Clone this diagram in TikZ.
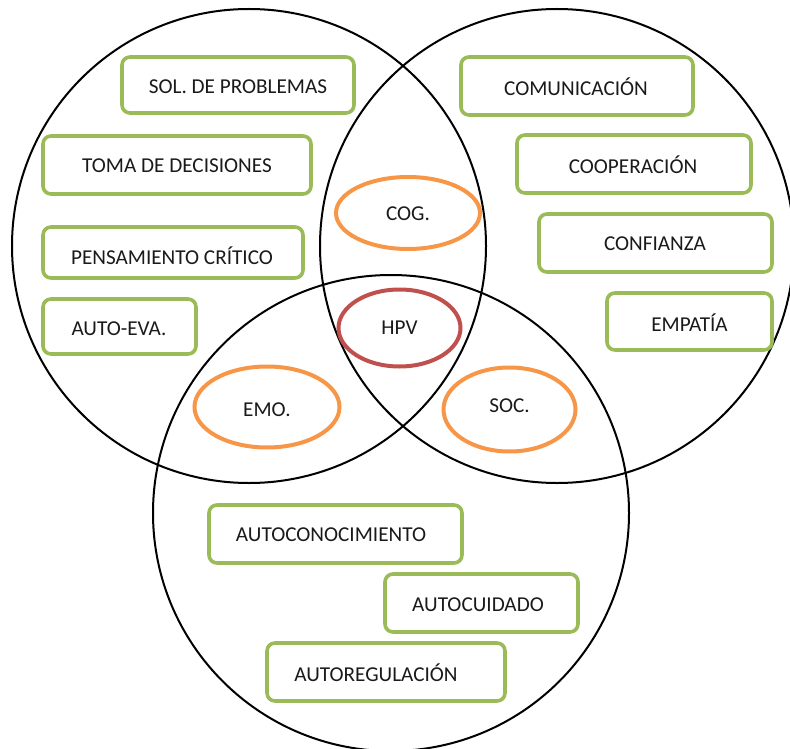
\documentclass[tikz,border=0pt]{standalone}
\usepackage{fontspec}
\setmainfont{Carlito}
\usetikzlibrary{shapes.geometric}
\definecolor{boxgreen}{HTML}{9BBB59}
\definecolor{ellorange}{HTML}{F79646}
\definecolor{ellred}{HTML}{C0504D}
\definecolor{txt}{HTML}{1A1A1A}
\begin{document}
\begin{tikzpicture}[x=1pt,y=-1pt,
  ring/.style={draw=black,line width=2pt},
  skill/.style={draw=boxgreen,line width=3.6pt,rounded corners=8pt,fill=white},
  lbl/.style={text=txt,font=\fontsize{21.2}{25}\selectfont,inner sep=0pt},
  area/.style={draw=ellorange,line width=4pt},
  core/.style={draw=ellred,line width=4pt}]
\useasboundingbox (0,0) rectangle (790,749);
% three circles
\draw[ring] (249,246) circle[radius=237];
\draw[ring] (557,246) circle[radius=237];
\draw[ring] (391,513) circle[radius=238];
% green boxes (left)
\draw[skill] (122,57) rectangle (354,113);
\node[lbl] (solp) at (238,87) {SOL. DE PROBLEMAS};
\draw[skill] (43,136) rectangle (311,194);
\node[lbl] (toma) at (177,166) {TOMA DE DECISIONES};
\draw[skill] (43,227) rectangle (303,278);
\node[lbl] (pens) at (172,256) {PENSAMIENTO CRÍTICO};
\draw[skill] (43,299) rectangle (196,354);
\node[lbl] (auto) at (119,329) {AUTO-EVA.};
% green boxes (right)
\draw[skill] (461,57) rectangle (693,115);
\node[lbl] (comu) at (576,87) {COMUNICACIÓN};
\draw[skill] (517,135) rectangle (751,193);
\node[lbl] (coop) at (633,165) {COOPERACIÓN};
\draw[skill] (539,214) rectangle (772,272);
\node[lbl] (conf) at (655,244) {CONFIANZA};
\draw[skill] (607,293) rectangle (772,350);
\node[lbl] (empa) at (689.5,323) {EMPATÍA};
% green boxes (bottom)
\draw[skill] (209,505) rectangle (462,563);
\node[lbl] (acon) at (331,535) {AUTOCONOCIMIENTO};
\draw[skill] (385,574) rectangle (578,632);
\node[lbl] (acui) at (478,605) {AUTOCUIDADO};
\draw[skill] (267,643) rectangle (505,701);
\node[lbl] (areg) at (376,673) {AUTOREGULACIÓN};
% ellipses
\draw[area] (408,213) ellipse[x radius=72,y radius=36];
\node[lbl] (cog) at (408,214) {COG.};
\draw[core] (399.5,328) ellipse[x radius=61,y radius=38.5];
\node[lbl] (hpv) at (399.5,328) {HPV};
\draw[area] (267,407) ellipse[x radius=72.5,y radius=40.5];
\node[lbl] (emo) at (267,410) {EMO.};
\draw[area] (509.5,409.5) ellipse[x radius=66,y radius=42];
\node[lbl] (soc) at (509.5,406) {SOC.};
\end{tikzpicture}
\end{document}
